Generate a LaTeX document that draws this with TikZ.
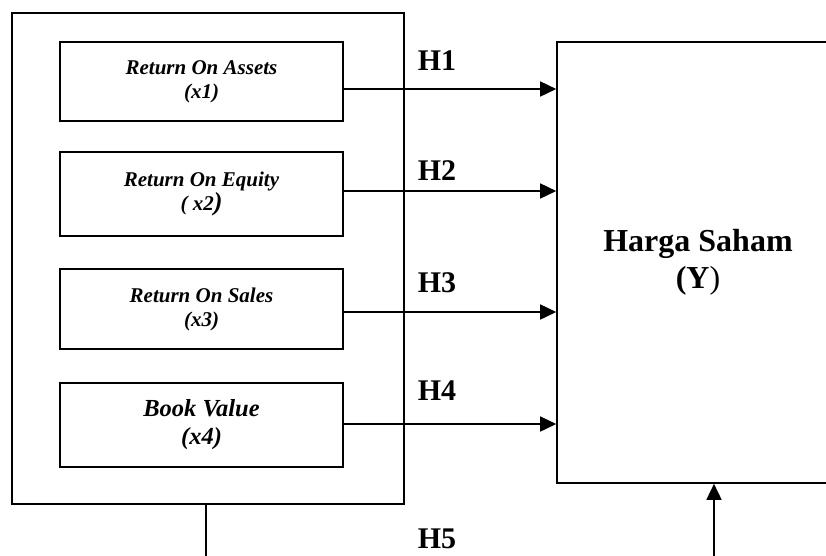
\documentclass[tikz,border=0pt]{standalone}
\usepackage{fontspec}
\setmainfont{Liberation Serif}
\usetikzlibrary{arrows.meta}
\begin{document}
\begin{tikzpicture}[x=1pt,y=-1pt,
  line width=1.6pt,
  box/.style={draw,rectangle,inner sep=0pt,align=center},
  varbox/.style={box,minimum width=283pt,font=\fontsize{21}{24}\selectfont\bfseries\itshape},
  hlab/.style={anchor=base west,inner sep=0pt,font=\fontsize{30}{30}\selectfont\bfseries},
  arr/.style={-{Triangle[length=16pt,width=15pt]}}]
\useasboundingbox (0,0) rectangle (826,555);
\node[box,minimum width=392pt,minimum height=491pt] (outer) at (208,258.5) {};
\node[varbox,minimum height=79pt] (b1) at (201.5,81.5) {Return On Assets\\(x1)};
\node[varbox,minimum height=84pt] (b2) at (201.5,194) {Return On Equity\\( x2{\fontsize{26}{26}\selectfont)}};
\node[varbox,minimum height=80pt] (b3) at (201.5,309) {Return On Sales\\(x3)};
\node[varbox,minimum height=84pt,font=\fontsize{24.5}{28}\selectfont\bfseries\itshape] (b4) at (201.5,425) {Book Value\\(x4)};
\node[box,minimum width=282pt,minimum height=441pt,font=\fontsize{32}{37}\selectfont\bfseries] (harga) at (698,262.5) {Harga Saham\\(Y{\mdseries)}};
\draw[arr] ([yshift=-7.5pt]b1.east) -- ([yshift=-7.5pt]b1.east -| harga.west);
\draw[arr] ([yshift=3pt]b2.east) -- ([yshift=3pt]b2.east -| harga.west);
\draw[arr] ([yshift=-3pt]b3.east) -- ([yshift=-3pt]b3.east -| harga.west);
\draw[arr] ([yshift=1pt]b4.east) -- ([yshift=1pt]b4.east -| harga.west);
\node[hlab] (h1) at (417,70) {H1};
\node[hlab] (h2) at (417,180) {H2};
\node[hlab] (h3) at (417,292) {H3};
\node[hlab] (h4) at (417,400) {H4};
\node[hlab] (h5) at (417,548) {H5};
\coordinate (c1) at (206,556);
\coordinate (c2) at (714,556);
\draw (outer.south -| c1) -- (c1);
\draw[arr] (c2) -- (c2 |- harga.south);
\end{tikzpicture}
\end{document}
